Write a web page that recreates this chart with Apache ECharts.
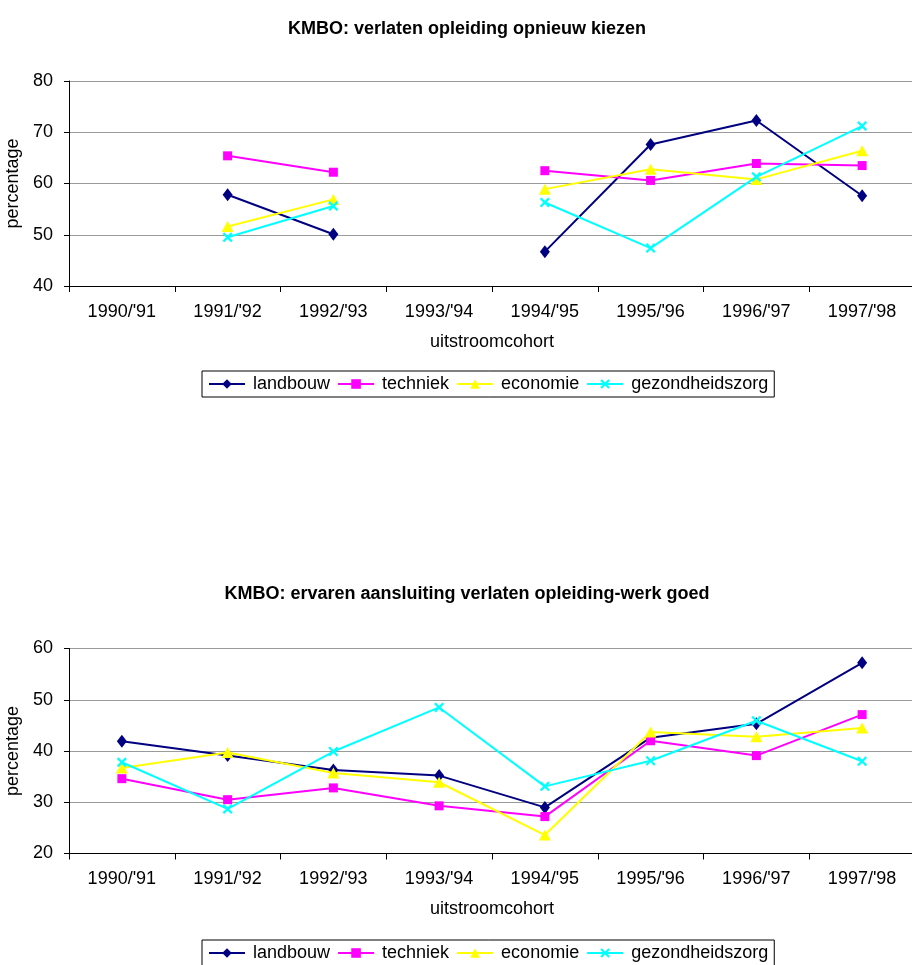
<!DOCTYPE html>
<html>
<head>
<meta charset="utf-8">
<script src="https://cdn.jsdelivr.net/npm/echarts@6/dist/echarts.min.js"></script>
<style>
html,body{margin:0;padding:0;background:#fff;}
#c{width:912px;height:965px;}
</style>
</head>
<body>
<div id="c"></div>
<script>
const categories = ["1990/'91", "1991/'92", "1992/'93", "1993/'94", "1994/'95", "1995/'96", "1996/'97", "1997/'98"];
const seriesNames = ["landbouw", "techniek", "economie", "gezondheidszorg"];

const titleTop = "KMBO: verlaten opleiding opnieuw kiezen";
const titleBottom = "KMBO: ervaren aansluiting verlaten opleiding-werk goed";

const topLandbouw = [null, 57.8, 50.1, null, 46.7, 67.6, 72.3, 57.6];
const topTechniek = [null, 65.4, 62.2, null, 62.5, 60.6, 63.9, 63.5];
const topEconomie = [null, 51.6, 56.9, null, 58.9, 62.8, 60.8, 66.4];
const topGezondheidszorg = [null, 49.5, 55.6, null, 56.3, 47.4, 61.3, 71.2];

const bottomLandbouw = [41.9, 39.1, 36.3, 35.2, 29.0, 42.6, 45.3, 57.2];
const bottomTechniek = [34.6, 30.5, 32.8, 29.3, 27.2, 42.0, 39.1, 47.1];
const bottomEconomie = [36.7, 39.7, 35.7, 33.9, 23.6, 43.7, 42.8, 44.5];
const bottomGezondheidszorg = [37.8, 28.7, 39.9, 48.5, 33.1, 38.1, 45.9, 38.0];

const FONT = "'Liberation Sans', Arial, sans-serif";
const FS = 18;
const xPath = 'path://M0,1.6 L1.6,0 L5,3.4 L8.4,0 L10,1.6 L6.6,5 L10,8.4 L8.4,10 L5,6.6 L1.6,10 L0,8.4 L3.4,5 Z';

const styles = [
  {color: '#000080', symbol: 'diamond', symbolSize: [10, 13]},
  {color: '#FF00FF', symbol: 'rect', symbolSize: [9, 9]},
  {color: '#FFFF00', symbol: 'triangle', symbolSize: [12, 11]},
  {color: '#00FFFF', symbol: xPath, symbolSize: [10, 10]}
];

function mkSeries(name, data, idx, styleIdx) {
  const s = styles[styleIdx];
  return {
    name: name, type: 'line', data: data,
    xAxisIndex: idx, yAxisIndex: idx,
    symbol: s.symbol, symbolSize: s.symbolSize, showSymbol: true,
    connectNulls: false,
    lineStyle: {color: s.color, width: 2},
    itemStyle: {color: s.color, borderWidth: 0},
    emphasis: {disabled: true},
    animation: false,
    z: 3 + styleIdx
  };
}

function mkXAxis(gridIndex) {
  return {
    type: 'category', gridIndex: gridIndex, data: categories, boundaryGap: true,
    name: 'uitstroomcohort', nameLocation: 'middle', nameGap: 47,
    nameTextStyle: {fontFamily: FONT, fontSize: FS, color: '#000'},
    axisLine: {show: true, lineStyle: {color: '#000', width: 1}},
    axisTick: {show: true, inside: false, length: 6, lineStyle: {color: '#000'}},
    axisLabel: {fontFamily: FONT, fontSize: FS, color: '#000', margin: 17, interval: 0},
    splitLine: {show: false}
  };
}

function mkYAxis(gridIndex, min, max) {
  return {
    type: 'value', gridIndex: gridIndex, min: min, max: max, interval: 10,
    name: 'percentage', nameLocation: 'middle', nameGap: 42, nameRotate: 90,
    nameTextStyle: {fontFamily: FONT, fontSize: FS, color: '#000'},
    axisLine: {show: true, lineStyle: {color: '#000', width: 1}},
    axisTick: {show: true, inside: false, length: 5, lineStyle: {color: '#000'}},
    axisLabel: {fontFamily: FONT, fontSize: FS, color: '#000', margin: 16},
    splitLine: {show: true, lineStyle: {color: '#9a9a9a', width: 1}}
  };
}

function mkLegend(top) {
  return {
    data: seriesNames, left: 202, top: top, orient: 'horizontal',
    borderColor: '#000', borderWidth: 1, padding: [4, 6, 4, 6],
    itemWidth: 36, itemHeight: 12, itemGap: 7,
    lineStyle: {width: 2},
    textStyle: {fontFamily: FONT, fontSize: FS, color: '#000', padding: [0, 0, 0, 3]},
    selectedMode: false
  };
}

const chart = echarts.init(document.getElementById('c'), null, {renderer: 'canvas'});
chart.setOption({
  backgroundColor: '#fff',
  animation: false,
  title: [
    {text: titleTop, left: 462, top: 15, textAlign: 'center',
     textStyle: {fontFamily: FONT, fontSize: FS, fontWeight: 'bold', color: '#000'}},
    {text: titleBottom, left: 462, top: 580, textAlign: 'center',
     textStyle: {fontFamily: FONT, fontSize: FS, fontWeight: 'bold', color: '#000'}}
  ],
  legend: [mkLegend(371), mkLegend(940)],
  grid: [
    {left: 69, top: 81, width: 846, height: 205, containLabel: false, outerBoundsMode: 'none'},
    {left: 69, top: 648.5, width: 846, height: 205, containLabel: false, outerBoundsMode: 'none'}
  ],
  xAxis: [mkXAxis(0), mkXAxis(1)],
  yAxis: [mkYAxis(0, 40, 80), mkYAxis(1, 20, 60)],
  series: [
    mkSeries(seriesNames[0], topLandbouw, 0, 0),
    mkSeries(seriesNames[1], topTechniek, 0, 1),
    mkSeries(seriesNames[2], topEconomie, 0, 2),
    mkSeries(seriesNames[3], topGezondheidszorg, 0, 3),
    mkSeries(seriesNames[0], bottomLandbouw, 1, 0),
    mkSeries(seriesNames[1], bottomTechniek, 1, 1),
    mkSeries(seriesNames[2], bottomEconomie, 1, 2),
    mkSeries(seriesNames[3], bottomGezondheidszorg, 1, 3)
  ]
});
</script>
</body>
</html>
